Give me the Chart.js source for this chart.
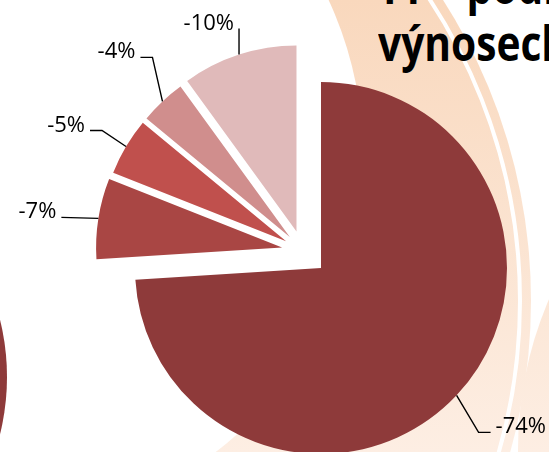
<!DOCTYPE html>
<html>
<head>
<meta charset="utf-8">
<script src="https://cdn.jsdelivr.net/npm/chart.js@4.4.1/dist/chart.umd.min.js"></script>
<style>
    html, body { margin: 0; padding: 0; width: 549px; height: 452px; overflow: hidden; background: #fff; }
    #bg { position: absolute; left: 0; top: 0; }
    .title {
        position: absolute; left: 378px; white-space: nowrap;
        font: bold 49px 'Open Sans', 'Noto Sans', sans-serif; line-height: 47px; color: #000;
        transform: scaleX(0.83); transform-origin: 0 0;
    }
    #t1 { top: -38px; }
    #t2 { top: 19px; }
    #wrap { position: absolute; left: 0; top: 0; width: 549px; height: 470px; }
</style>
</head>
<body>
<svg id="bg" width="549" height="452">
    <defs>
        <linearGradient id="peach" gradientUnits="userSpaceOnUse" x1="0" y1="0" x2="0" y2="452">
            <stop offset="0" stop-color="#F9D8BD"/>
            <stop offset="1" stop-color="#FDEEE3"/>
        </linearGradient>
    </defs>
    <circle cx="-28" cy="301" r="559" fill="url(#peach)"/>
    <circle cx="-28" cy="301" r="548" fill="none" stroke="#fff" stroke-width="4"/>
    <circle cx="-8" cy="156" r="371" fill="#fff"/>
    <circle cx="900" cy="450" r="382" fill="url(#peach)"/>
    <circle cx="-231" cy="377" r="238" fill="#8E3A3A"/>
</svg>
<div class="title" id="t1">TT – podíl na</div>
<div class="title" id="t2">výnosech</div>
<div id="wrap"><canvas id="pieChart"></canvas></div>

<script>
// values
const labelTexts = ['-74%', '-7%', '-5%', '-4%', '-10%'];
const shares = [74, 7, 5, 4, 10];
const sliceColors = ['#8E3A3A', '#A94644', '#C0504D', '#D08E8D', '#E0BABA'];

// explosion of the small slices (px) and how much they fan out
const explode = [0, 44, 44, 44, 44];
const explodeSpread = 0.45;

// leader lines: bend from the slice edge, then a short horizontal tail
const leaderBend = [[22, 37], [-37, -1], [-24, -16], [-10, -44], [0, -26]];
const leaderTail = [12, 0, -12, -12, 0];


function sliceShift(arcs, i) {
    if (!explode[i]) return { x: 0, y: 0 };
    let lo = Infinity, hi = -Infinity;
    arcs.forEach((a, j) => {
        if (explode[j]) {
            lo = Math.min(lo, a.startAngle);
            hi = Math.max(hi, a.endAngle);
        }
    });
    const group = (lo + hi) / 2;
    const own = (arcs[i].startAngle + arcs[i].endAngle) / 2;
    const dir = group + explodeSpread * (own - group);
    return { x: explode[i] * Math.cos(dir), y: explode[i] * Math.sin(dir) };
}

const explodePlugin = {
    id: 'explode',
    beforeDatasetDraw(chart, args) {
        const ctx = chart.ctx;
        const arcs = args.meta.data;
        arcs.forEach((arc, i) => {
            const s = sliceShift(arcs, i);
            ctx.save();
            ctx.translate(s.x, s.y);
            arc.draw(ctx);
            ctx.restore();
        });
        return false;
    }
};

const leaderPlugin = {
    id: 'leaders',
    afterDatasetsDraw(chart) {
        const ctx = chart.ctx;
        const arcs = chart.getDatasetMeta(0).data;
        ctx.save();
        ctx.strokeStyle = '#000';
        ctx.fillStyle = '#000';
        ctx.lineWidth = 1.4;
        ctx.font = "22px 'Open Sans'";
        ctx.textBaseline = 'alphabetic';
        arcs.forEach((arc, i) => {
            const s = sliceShift(arcs, i);
            const mid = (arc.startAngle + arc.endAngle) / 2;
            const px = arc.x + s.x + arc.outerRadius * Math.cos(mid);
            const py = arc.y + s.y + arc.outerRadius * Math.sin(mid);
            const bx = px + leaderBend[i][0];
            const by = py + leaderBend[i][1];
            const ex = bx + leaderTail[i];

            ctx.beginPath();
            ctx.moveTo(px, py);
            ctx.lineTo(bx, by);
            ctx.lineTo(ex, by);
            ctx.stroke();

            const toRight = leaderTail[i] > 0 || (leaderTail[i] === 0 && leaderBend[i][0] > 0);
            ctx.textAlign = toRight ? 'left' : 'right';
            ctx.fillText(chart.data.labels[i], toRight ? ex + 5 : ex - 5, by + 1);
        });
        ctx.restore();
    }
};

const ctx = document.getElementById('pieChart').getContext('2d');
new Chart(ctx, {
    type: 'pie',
    data: {
        labels: labelTexts,
        datasets: [{
            data: shares,
            backgroundColor: sliceColors,
            borderWidth: 0,
            hoverBorderWidth: 0,
            hoverOffset: 0,
            clip: false
        }]
    },
    options: {
        responsive: true,
        maintainAspectRatio: false,
        animation: false,
        events: [],
        layout: {
            padding: { left: 135, top: 82, right: 42, bottom: 16 }
        },
        plugins: {
            legend: { display: false },
            tooltip: { enabled: false }
        }
    },
    plugins: [explodePlugin, leaderPlugin]
});
</script>
</body>
</html>
